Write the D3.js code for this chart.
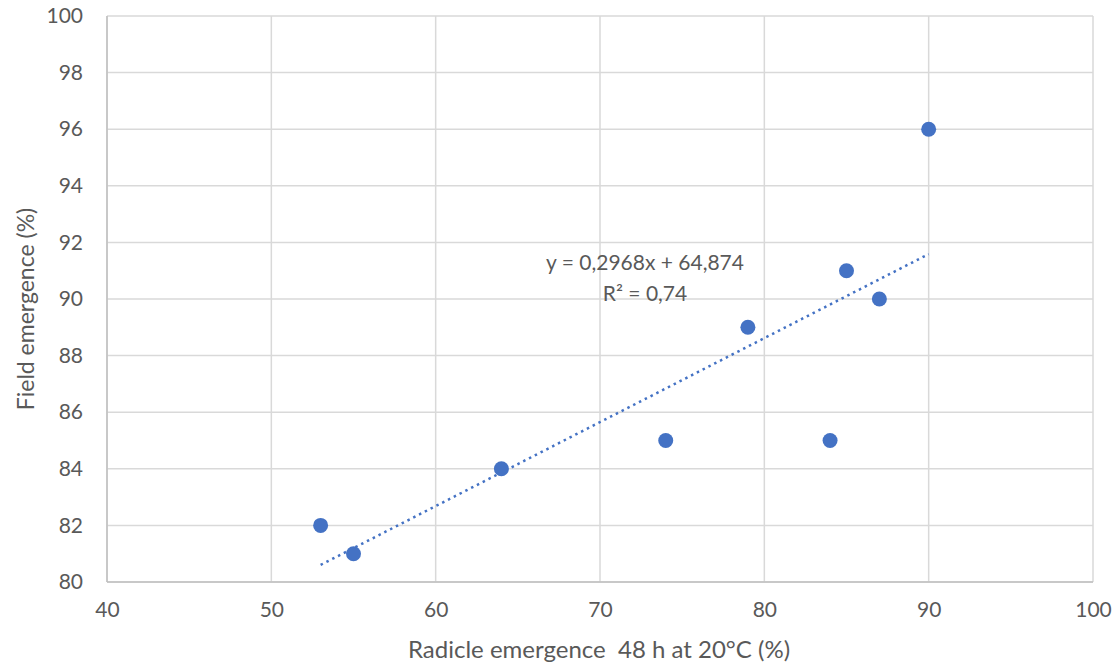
<!DOCTYPE html>
<html>
<head>
<meta charset="utf-8">
<script src="https://cdn.jsdelivr.net/npm/d3@7"></script>
<style>
  body { margin: 0; background: #fff; }
  text { font-family: Lato, "Open Sans", sans-serif; fill: #595959; white-space: pre; }
</style>
</head>
<body>
<svg id="chart"></svg>
<script>
const radicle = [53, 55, 64, 74, 79, 84, 85, 87, 90];
const field = [82, 81, 84, 85, 89, 85, 91, 90, 96];
const xTicks = [40, 50, 60, 70, 80, 90, 100];
const yTicks = [80, 82, 84, 86, 88, 90, 92, 94, 96, 98, 100];
const slope = 0.2968, intercept = 64.874;
const trendLabel = "y = 0,2968x + 64,874";
const r2Label = "R² = 0,74";

const W = 1115, H = 666;
const margin = { top: 16, right: 22, bottom: 84, left: 107 };
const width = W - margin.left - margin.right;
const height = H - margin.top - margin.bottom;

const svg = d3.select("#chart").attr("width", W).attr("height", H);
const g = svg.append("g").attr("transform", `translate(${margin.left}, ${margin.top})`);

const x = d3.scaleLinear().domain([40, 100]).range([0, width]);
const y = d3.scaleLinear().domain([80, 100]).range([height, 0]);

// gridlines
g.selectAll(".hgrid").data(yTicks).enter().append("line")
  .attr("x1", 0).attr("x2", width)
  .attr("y1", d => y(d)).attr("y2", d => y(d))
  .attr("stroke", "#d9d9d9").attr("stroke-width", 1.5);
g.selectAll(".vgrid").data(xTicks).enter().append("line")
  .attr("y1", 0).attr("y2", height)
  .attr("x1", d => x(d)).attr("x2", d => x(d))
  .attr("stroke", "#d9d9d9").attr("stroke-width", 1.5);

// axis lines
g.append("line").attr("x1", 0).attr("x2", 0).attr("y1", 0).attr("y2", height)
  .attr("stroke", "#bfbfbf").attr("stroke-width", 1.5);
g.append("line").attr("x1", 0).attr("x2", width).attr("y1", height).attr("y2", height)
  .attr("stroke", "#bfbfbf").attr("stroke-width", 1.5);

// tick labels
const xAxis = g.append("g").attr("transform", `translate(0, ${height})`)
  .call(d3.axisBottom(x).tickValues(xTicks).tickSize(0).tickPadding(20));
const yAxis = g.append("g")
  .call(d3.axisLeft(y).tickValues(yTicks).tickSize(0).tickPadding(24));
[xAxis, yAxis].forEach(a => {
  a.select(".domain").remove();
  a.selectAll("text").attr("font-size", "21px").attr("font-family", "Lato, sans-serif").attr("fill", "#595959");
});

// trendline
const xs = d3.extent(radicle);
g.append("line")
  .attr("x1", x(xs[0])).attr("y1", y(slope * xs[0] + intercept))
  .attr("x2", x(xs[1])).attr("y2", y(slope * xs[1] + intercept))
  .attr("stroke", "#4472c4").attr("stroke-width", 2.5)
  .attr("stroke-dasharray", "2.5,4").attr("stroke-linecap", "butt");

// points
g.selectAll(".dot").data(radicle.map((d, i) => [d, field[i]])).enter()
  .append("circle")
  .attr("cx", d => x(d[0])).attr("cy", d => y(d[1]))
  .attr("r", 7.5).attr("fill", "#4472c4");

// equation
g.append("text").attr("x", 645 - margin.left).attr("y", 270 - margin.top)
  .attr("text-anchor", "middle").attr("font-size", "21px").text(trendLabel);
g.append("text").attr("x", 645 - margin.left).attr("y", 301 - margin.top)
  .attr("text-anchor", "middle").attr("font-size", "21px").text(r2Label);

// axis titles
svg.append("text").attr("x", margin.left + width / 2 - 1).attr("y", 658)
  .attr("text-anchor", "middle").attr("font-size", "24px")
  .text("Radicle emergence  48 h at 20°C (%)");
svg.append("text").attr("transform", `translate(34, ${margin.top + height / 2 + 10}) rotate(-90)`)
  .attr("text-anchor", "middle").attr("font-size", "23px")
  .text("Field emergence (%)");
</script>
</body>
</html>
